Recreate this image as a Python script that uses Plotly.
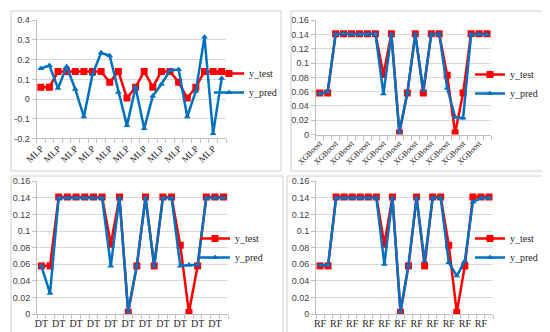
import plotly.graph_objects as go

n = 22
idx = list(range(n))

y_test_mlp = [0.06, 0.06, 0.14, 0.14, 0.14, 0.14, 0.14, 0.14, 0.085, 0.14, 0.005,
              0.06, 0.14, 0.06, 0.14, 0.14, 0.085, 0.005, 0.06, 0.14, 0.14, 0.14]
y_pred_mlp = [0.155, 0.17, 0.055, 0.165, 0.05, -0.09, 0.125, 0.235, 0.22, 0.035, -0.135,
              0.06, -0.15, 0.015, 0.075, 0.145, 0.15, -0.09, 0.04, 0.315, -0.175, 0.105]

y_test = [0.058, 0.058, 0.141, 0.141, 0.141, 0.141, 0.141, 0.141, 0.084, 0.141, 0.002,
          0.058, 0.141, 0.058, 0.141, 0.141, 0.083, 0.002, 0.058, 0.141, 0.141, 0.141]
y_pred_xgb = [0.057, 0.06, 0.14, 0.141, 0.14, 0.14, 0.14, 0.141, 0.057, 0.14, 0.003,
              0.058, 0.14, 0.062, 0.14, 0.141, 0.065, 0.024, 0.023, 0.14, 0.14, 0.14]
y_pred_dt = [0.058, 0.025, 0.14, 0.14, 0.14, 0.14, 0.14, 0.14, 0.058, 0.14, 0.003,
             0.059, 0.14, 0.058, 0.14, 0.14, 0.058, 0.059, 0.059, 0.14, 0.14, 0.14]
y_pred_rf = [0.059, 0.059, 0.14, 0.14, 0.14, 0.14, 0.14, 0.14, 0.06, 0.14, 0.003,
             0.059, 0.14, 0.064, 0.14, 0.14, 0.062, 0.046, 0.064, 0.135, 0.14, 0.14]

models = ["MLP", "XGBoost", "DT", "RF"]
tests = [y_test_mlp, y_test, y_test, y_test]
preds = [y_pred_mlp, y_pred_xgb, y_pred_dt, y_pred_rf]

W, H = 550, 332
def px_x(a, b):
    return [a / W, b / W]
def px_y(top, bottom):
    return [(H - bottom) / H, (H - top) / H]

domains = [
    (px_x(28.5, 218), px_y(12.3, 130.4)),
    (px_x(307.7, 483), px_y(12.3, 126.5)),
    (px_x(29, 220), px_y(173.3, 306)),
    (px_x(308, 485), px_y(173.3, 306)),
]
legend_pos = [(251, 75), (512, 76), (237, 240), (512, 240)]
panels = [(3, 3, 273, 163), (283, 3, 547, 163), (3, 168, 275, 328), (279, 168, 546, 328)]
tick_sizes = [9.5, 8, 10, 10]

RED = "#FF0000"
BLUE = "#0070C0"
GRID = "#D9D9D9"
SERIF = "Liberation Serif"
SANS = "Liberation Sans"

fig = go.Figure()
layout = dict(width=W, height=H, margin=dict(l=0, r=0, t=0, b=0),
              paper_bgcolor="white", plot_bgcolor="white", shapes=[])

for k in range(4):
    ax = "" if k == 0 else str(k + 1)
    lg = "legend" if k == 0 else f"legend{k + 1}"
    fig.add_trace(go.Scatter(x=idx, y=tests[k], name="y_test", mode="lines+markers",
                             line=dict(color=RED, width=2.5),
                             marker=dict(symbol="square", size=7, color=RED),
                             xaxis="x" + ax, yaxis="y" + ax, legend=lg))
    fig.add_trace(go.Scatter(x=idx, y=preds[k], name="y_pred", mode="lines+markers",
                             line=dict(color=BLUE, width=2.5),
                             marker=dict(symbol="triangle-up", size=6, color=BLUE),
                             xaxis="x" + ax, yaxis="y" + ax, legend=lg))
    dx, dy = domains[k]
    rot = -45 if k < 2 else 0
    layout["xaxis" + ax] = dict(
        domain=dx, anchor="y" + ax, range=[-0.5, n - 0.5],
        tickmode="array", tickvals=list(range(0, n, 2)), ticktext=[models[k]] * 11,
        tickangle=rot, ticks="", showgrid=False, zeroline=False, automargin=False,
        showline=True, linecolor="#BFBFBF", linewidth=1,
        tickfont=dict(family=SERIF, size=tick_sizes[k], color="#262626"),
        minor=dict(ticks="outside", tick0=-0.5, dtick=1, ticklen=4,
                   tickcolor="#BFBFBF", showgrid=False),
    )
    if k == 0:
        yr = [-0.2, 0.4]
        tv = [-0.2, -0.1, 0, 0.1, 0.2, 0.3, 0.4]
        tt = ["-0.2", "-0.1", "0", "0.1", "0.2", "0.3", "0.4"]
    else:
        yr = [0, 0.16]
        tv = [0, 0.02, 0.04, 0.06, 0.08, 0.1, 0.12, 0.14, 0.16]
        tt = ["0", "0.02", "0.04", "0.06", "0.08", "0.1", "0.12", "0.14", "0.16"]
    layout["yaxis" + ax] = dict(
        domain=dy, anchor="x" + ax, range=yr, tickmode="array", tickvals=tv, ticktext=tt,
        showgrid=True, gridcolor=GRID, gridwidth=1, zeroline=False, automargin=False,
        showline=True, linecolor="#BFBFBF", linewidth=1, ticks="outside", ticklen=4,
        tickcolor="#BFBFBF",
        tickfont=dict(family=SANS, size=9, color="#404040"),
    )
    lx, ly = legend_pos[k]
    layout[lg] = dict(x=(lx - 50) / W, y=(H - ly) / H, xanchor="left", yanchor="middle",
                      bgcolor="rgba(0,0,0,0)", itemwidth=30,
                      font=dict(family=SERIF, size=10, color="#262626"),
                      tracegroupgap=0)
    x0, y0, x1, y1 = panels[k]
    layout["shapes"].append(dict(type="rect", xref="paper", yref="paper",
                                 x0=x0 / W, x1=x1 / W, y0=(H - y1) / H, y1=(H - y0) / H,
                                 line=dict(color="#D0D0D0", width=1), fillcolor="rgba(0,0,0,0)"))

fig.update_layout(**layout)
fig.write_html("out.html")
